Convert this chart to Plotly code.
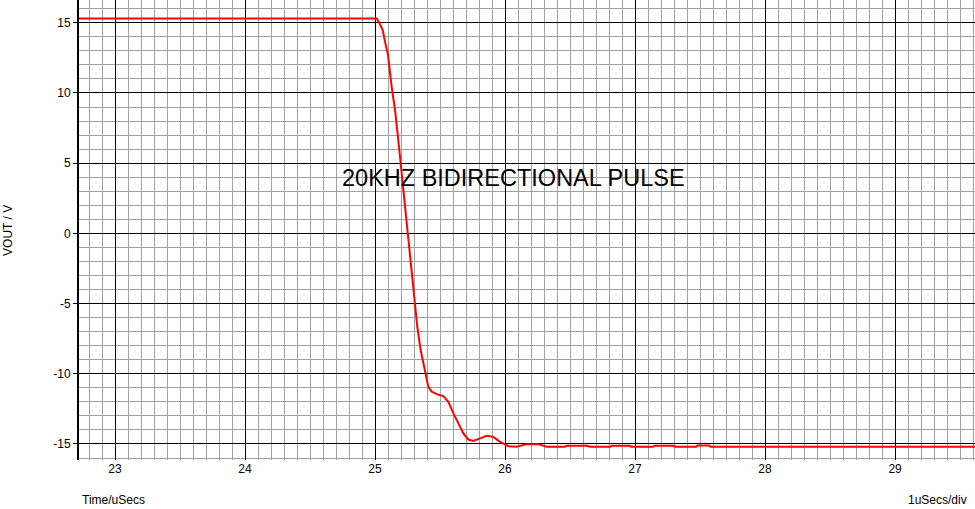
import plotly.graph_objects as go

# Data (time in microseconds, VOUT in volts)
time_us = [22.72, 24.0, 25.0, 25.013, 25.033, 25.059, 25.077, 25.10, 25.128, 25.154,
           25.179, 25.20, 25.218, 25.244, 25.264, 25.29, 25.308, 25.325, 25.351,
           25.385, 25.41, 25.436, 25.474, 25.526, 25.564, 25.603, 25.641, 25.68,
           25.718, 25.756, 25.808, 25.859, 25.91, 25.962, 26.026, 26.09, 26.167,
           26.256, 26.32, 26.46, 26.474, 26.63, 26.654, 26.81, 26.82, 26.96, 26.97,
           27.14, 27.15, 27.29, 27.31, 27.47, 27.48, 27.57, 27.58, 28.5, 29.62]
vout = [15.3, 15.3, 15.3, 15.3, 15.0, 14.48, 13.65, 12.7, 10.44, 8.78,
        6.65, 4.74, 2.85, 0.71, -1.2, -3.56, -4.99, -6.65, -8.31,
        -9.97, -10.93, -11.28, -11.45, -11.59, -12.0, -12.82, -13.53, -14.25,
        -14.68, -14.78, -14.6, -14.42, -14.49, -14.85, -15.16, -15.2, -15.01,
        -15.01, -15.2, -15.2, -15.13, -15.13, -15.2, -15.2, -15.13, -15.13, -15.2,
        -15.2, -15.13, -15.13, -15.2, -15.2, -15.1, -15.1, -15.2, -15.2, -15.2]

x_ticks = [23, 24, 25, 26, 27, 28, 29]
y_ticks = [-15, -10, -5, 0, 5, 10, 15]

title_text = "20KHZ BIDIRECTIONAL PULSE"
x_label = "Time/uSecs"
div_label = "1uSecs/div"
y_label = "VOUT / V"

FONT = "Liberation Sans, Arial, sans-serif"

fig = go.Figure()
fig.add_trace(go.Scatter(x=time_us, y=vout, mode="lines",
                         line=dict(color="#ff0000", width=2), hoverinfo="skip"))

fig.update_layout(
    width=975, height=509,
    margin=dict(l=79, r=0, t=0, b=49, pad=0),
    paper_bgcolor="white", plot_bgcolor="white",
    showlegend=False,
    font=dict(family=FONT, size=12, color="black"),
    xaxis=dict(
        range=[22.723, 29.615],
        tickmode="array", tickvals=x_ticks, ticktext=[str(v) for v in x_ticks],
        showgrid=True, gridcolor="black", gridwidth=1,
        zeroline=False, showline=False, ticks="",
        minor=dict(dtick=0.1, tick0=0, showgrid=True, gridcolor="#a0a0a0", gridwidth=1),
        tickfont=dict(family=FONT, size=12, color="black"),
        fixedrange=True,
    ),
    yaxis=dict(
        range=[-16.14, 16.62],
        tickmode="array", tickvals=y_ticks, ticktext=[str(v) for v in y_ticks],
        showgrid=True, gridcolor="black", gridwidth=1,
        zeroline=False, showline=True, linecolor="black", linewidth=2,
        ticks="outside", ticklen=4, tickcolor="black", tickwidth=1,
        minor=dict(dtick=1, tick0=0, showgrid=True, gridcolor="#a0a0a0", gridwidth=1),
        tickfont=dict(family=FONT, size=12, color="black"),
        fixedrange=True,
    ),
    annotations=[
        dict(text=title_text, xref="paper", yref="paper", x=0.485, y=0.613,
             xanchor="center", yanchor="middle", showarrow=False,
             font=dict(family=FONT, size=23.5, color="black")),
        dict(text=x_label, xref="paper", yref="paper", x=0.001, y=-0.087,
             xanchor="left", yanchor="middle", showarrow=False,
             font=dict(family=FONT, size=12, color="black")),
        dict(text=div_label, xref="paper", yref="paper", x=0.993, y=-0.087,
             xanchor="right", yanchor="middle", showarrow=False,
             font=dict(family=FONT, size=12, color="black")),
        dict(text=y_label, xref="paper", yref="paper", x=-0.0792, y=0.498,
             xanchor="center", yanchor="middle", textangle=-90, showarrow=False,
             font=dict(family=FONT, size=12, color="black")),
    ],
)

fig.write_html("out.html", config={"displayModeBar": False},
               post_script="document.body.style.margin='0';document.body.style.overflow='hidden';")
